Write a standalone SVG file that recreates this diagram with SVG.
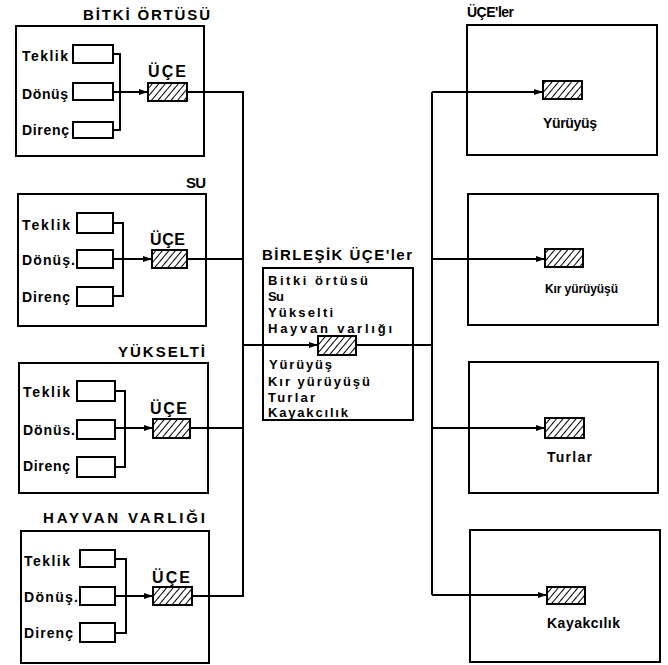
<svg xmlns="http://www.w3.org/2000/svg" width="668" height="665" viewBox="0 0 668 665">
<defs>
<pattern id="hatch" patternUnits="userSpaceOnUse" width="5" height="5" patternTransform="rotate(40)">
<rect width="5" height="5" fill="#fff"/>
<line x1="0" y1="0" x2="0" y2="5" stroke="#000" stroke-width="2"/>
</pattern>
<marker id="arr" markerUnits="userSpaceOnUse" markerWidth="9" markerHeight="6" refX="9" refY="3" orient="auto">
<path d="M0,0 L9,3 L0,6 z" fill="#000"/>
</marker>
</defs>
<style>
.box{fill:none;stroke:#000;stroke-width:2}
.sm{fill:#fff;stroke:#000;stroke-width:2}
.ht{fill:url(#hatch);stroke:#000;stroke-width:2}
.ln{fill:none;stroke:#000;stroke-width:2}
.ar{fill:none;stroke:#000;stroke-width:2;marker-end:url(#arr)}
text{font-family:"Liberation Sans",Arial,sans-serif;font-weight:bold;fill:#000}
.t{font-size:15px}
.l{font-size:14px}
.u{font-size:16px}
.c{font-size:13px}
.s{font-size:12px}
</style>
<rect width="668" height="665" fill="#fff"/>

<g id="bitki">
<text class="t" x="83" y="20" textLength="127" lengthAdjust="spacing">BİTKİ ÖRTÜSÜ</text>
<rect class="box" x="16" y="26" width="188" height="130"/>
<text class="l" x="22" y="61" textLength="46">Teklik</text>
<text class="l" x="22" y="99" textLength="46">Dönüş</text>
<text class="l" x="22" y="135" textLength="47">Direnç</text>
<rect class="sm" x="73" y="45" width="40" height="18"/>
<rect class="sm" x="73" y="83" width="40" height="17"/>
<rect class="sm" x="73" y="122" width="40" height="16"/>
<text class="u" x="148" y="77" textLength="38">ÜÇE</text>
<rect class="ht" x="148" y="83" width="39" height="18"/>
</g>

<g id="su">
<text class="t" x="186" y="188" textLength="20">SU</text>
<rect class="box" x="18" y="194" width="188" height="132"/>
<text class="l" x="22" y="230" textLength="48">Teklik</text>
<text class="l" x="22" y="265" textLength="53">Dönüş.</text>
<text class="l" x="22" y="302" textLength="48">Direnç</text>
<rect class="sm" x="77" y="213" width="36" height="20"/>
<rect class="sm" x="77" y="250" width="36" height="18"/>
<rect class="sm" x="77" y="287" width="36" height="19"/>
<text class="u" x="150" y="245" textLength="35">ÜÇE</text>
<rect class="ht" x="152" y="250" width="35" height="18"/>
</g>

<g id="yukselti">
<text class="t" x="118" y="357" textLength="87" lengthAdjust="spacing">YÜKSELTİ</text>
<rect class="box" x="19" y="363" width="189" height="130"/>
<text class="l" x="23" y="397" textLength="47">Teklik</text>
<text class="l" x="23" y="435" textLength="52">Dönüs.</text>
<text class="l" x="23" y="471" textLength="47">Direnç</text>
<rect class="sm" x="77" y="381" width="38" height="20"/>
<rect class="sm" x="77" y="420" width="38" height="19"/>
<rect class="sm" x="77" y="457" width="38" height="20"/>
<text class="u" x="150" y="414" textLength="37">ÜÇE</text>
<rect class="ht" x="153" y="419" width="37" height="19"/>
</g>

<g id="hayvan">
<text class="t" x="43" y="523" textLength="162" lengthAdjust="spacing">HAYVAN  VARLIĞI</text>
<rect class="box" x="21" y="531" width="188" height="132"/>
<text class="l" x="24" y="566" textLength="46">Teklik</text>
<text class="l" x="24" y="602" textLength="54">Dönüş.</text>
<text class="l" x="24" y="638" textLength="49">Direnç</text>
<rect class="sm" x="80" y="550" width="35" height="17"/>
<rect class="sm" x="80" y="587" width="35" height="18"/>
<rect class="sm" x="80" y="623" width="35" height="19"/>
<text class="u" x="152" y="583" textLength="38">ÜÇE</text>
<rect class="ht" x="153" y="587" width="39" height="18"/>
</g>

<g id="birlesik">
<text class="t" x="262" y="260" textLength="150" lengthAdjust="spacing">BİRLEŞİK ÜÇE'ler</text>
<rect class="box" x="263" y="268" width="150" height="152"/>
<text class="c" x="268" y="285" textLength="100">Bitki örtüsü</text>
<text class="c" x="268" y="301" textLength="16">Su</text>
<text class="c" x="268" y="317" textLength="65">Yükselti</text>
<text class="c" x="268" y="333" textLength="124">Hayvan varlığı</text>
<text class="c" x="269" y="369" textLength="63">Yürüyüş</text>
<text class="c" x="268" y="386" textLength="102">Kır yürüyüşü</text>
<text class="c" x="268" y="402" textLength="47">Turlar</text>
<text class="c" x="268" y="417" textLength="80">Kayakcılık</text>
<rect class="ht" x="318" y="336" width="38" height="19"/>
</g>

<g id="yuruyus">
<text class="l" x="467" y="17" textLength="47" lengthAdjust="spacing">ÜÇE'ler</text>
<rect class="box" x="467" y="25" width="190" height="130"/>
<rect class="ht" x="543" y="81" width="39" height="18"/>
<text class="l" x="543" y="128" textLength="54">Yürüyüş</text>
</g>

<g id="kir">
<rect class="box" x="468" y="194" width="190" height="131"/>
<rect class="ht" x="545" y="249" width="38" height="18"/>
<text class="s" x="545" y="293" textLength="73">Kır yürüyüşü</text>
</g>

<g id="turlar">
<rect class="box" x="469" y="362" width="189" height="131"/>
<rect class="ht" x="545" y="418" width="39" height="20"/>
<text class="l" x="547" y="462" textLength="45">Turlar</text>
</g>

<g id="kayak">
<rect class="box" x="470" y="530" width="190" height="132"/>
<rect class="ht" x="547" y="587" width="38" height="17"/>
<text class="l" x="547" y="628" textLength="73">Kayakcılık</text>
</g>

<g id="connectors">
<path class="ln" d="M113,54 H120 V130 H113"/>
<path class="ar" d="M113,92 H148"/>
<path class="ln" d="M113,223 H123 V296 H113"/>
<path class="ar" d="M113,259 H152"/>
<path class="ln" d="M115,391 H125 V467 H115"/>
<path class="ar" d="M115,428 H153"/>
<path class="ln" d="M115,559 H126 V633 H115"/>
<path class="ar" d="M115,596 H153"/>
<path class="ln" d="M187,92 H243 V596 H192"/>
<path class="ln" d="M187,259 H243"/>
<path class="ln" d="M190,428 H243"/>
<path class="ar" d="M243,345 H318"/>
<path class="ln" d="M356,345 H432"/>
<path class="ln" d="M432,92 V595"/>
<path class="ar" d="M432,92 H543"/>
<path class="ar" d="M432,259 H545"/>
<path class="ar" d="M432,428 H545"/>
<path class="ar" d="M432,595 H547"/>
</g>
</svg>
